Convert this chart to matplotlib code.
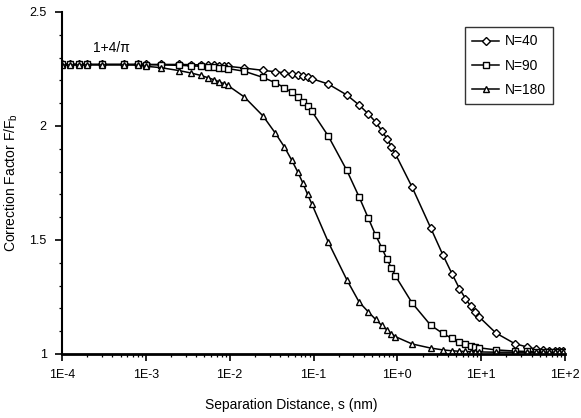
import numpy as np
import matplotlib
matplotlib.use("Agg")
import matplotlib.pyplot as plt
from matplotlib.ticker import FixedLocator, FixedFormatter, MultipleLocator, LogLocator, NullFormatter

plt.rcParams["font.family"] = ["Liberation Sans", "DejaVu Sans"]

# separation distance s (nm), shared by all three series
s_nm = [
    1e-4, 1.25e-4, 1.6e-4, 2e-4, 3e-4, 5.5e-4, 8e-4,
    1e-3, 1.5e-3, 2.5e-3, 3.5e-3, 4.5e-3, 5.5e-3, 6.5e-3, 7.5e-3, 8.5e-3, 9.5e-3,
    1.5e-2, 2.5e-2, 3.5e-2, 4.5e-2, 5.5e-2, 6.5e-2, 7.5e-2, 8.5e-2, 9.5e-2,
    1.5e-1, 2.5e-1, 3.5e-1, 4.5e-1, 5.5e-1, 6.5e-1, 7.5e-1, 8.5e-1, 9.5e-1,
    1.5, 2.5, 3.5, 4.5, 5.5, 6.5, 7.5, 8.5, 9.5,
    15, 25, 35, 45, 55, 65, 75, 85, 95,
]

f_n40 = [
    2.270, 2.270, 2.270, 2.270, 2.270, 2.270, 2.270,
    2.270, 2.270, 2.270, 2.269, 2.268, 2.267, 2.266, 2.265, 2.264, 2.262,
    2.254, 2.244, 2.238, 2.233, 2.228, 2.223, 2.218, 2.213, 2.208,
    2.184, 2.136, 2.092, 2.053, 2.018, 1.980, 1.945, 1.910, 1.877,
    1.732, 1.553, 1.434, 1.351, 1.287, 1.243, 1.210, 1.184, 1.162,
    1.092, 1.046, 1.031, 1.022, 1.018, 1.015, 1.013, 1.012, 1.011,
]

f_n90 = [
    2.270, 2.270, 2.270, 2.270, 2.270, 2.270, 2.270,
    2.269, 2.268, 2.266, 2.264, 2.262, 2.260, 2.258, 2.256, 2.254, 2.252,
    2.240, 2.213, 2.190, 2.168, 2.147, 2.126, 2.106, 2.086, 2.066,
    1.956, 1.805, 1.689, 1.596, 1.522, 1.467, 1.417, 1.377, 1.342,
    1.224, 1.126, 1.090, 1.068, 1.054, 1.044, 1.036, 1.031, 1.027,
    1.018, 1.013, 1.011, 1.010, 1.009, 1.009, 1.008, 1.008, 1.008,
]

f_n180 = [
    2.268, 2.268, 2.268, 2.268, 2.268, 2.268, 2.267,
    2.262, 2.256, 2.243, 2.232, 2.222, 2.212, 2.203, 2.194, 2.186, 2.178,
    2.127, 2.044, 1.969, 1.908, 1.850, 1.798, 1.748, 1.700, 1.660,
    1.491, 1.325, 1.228, 1.185, 1.152, 1.126, 1.106, 1.089, 1.076,
    1.044, 1.026, 1.018, 1.014, 1.012, 1.011, 1.010, 1.009, 1.009,
    1.008, 1.008, 1.008, 1.008, 1.008, 1.008, 1.008, 1.008, 1.008,
]

series = [("N=40", f_n40, "D", 3.6), ("N=90", f_n90, "s", 4.2), ("N=180", f_n180, "^", 4.6)]

x_ticks = [1e-4, 1e-3, 1e-2, 1e-1, 1e0, 1e1, 1e2]
x_ticklabels = ["1E-4", "1E-3", "1E-2", "1E-1", "1E+0", "1E+1", "1E+2"]
y_ticks = [1, 1.5, 2, 2.5]
y_ticklabels = ["1", "1.5", "2", "2.5"]

fig = plt.figure(figsize=(5.81, 4.18), dpi=100)
ax = fig.add_axes([62 / 581, 1 - 354 / 418, 503 / 581, 342 / 418])

for label, f, marker, ms in series:
    ax.plot(s_nm, f, color="black", lw=1.1, marker=marker, ms=ms,
            mfc="white", mec="black", mew=1.0, label=label)

ax.set_xscale("log")
ax.set_xlim(1e-4, 1e2)
ax.set_ylim(1, 2.5)

ax.xaxis.set_major_locator(FixedLocator(x_ticks))
ax.xaxis.set_major_formatter(FixedFormatter(x_ticklabels))
ax.xaxis.set_minor_locator(LogLocator(base=10, subs=np.arange(2, 10), numticks=20))
ax.xaxis.set_minor_formatter(NullFormatter())
ax.yaxis.set_major_locator(FixedLocator(y_ticks))
ax.yaxis.set_major_formatter(FixedFormatter(y_ticklabels))
ax.yaxis.set_minor_locator(MultipleLocator(0.1))

ax.tick_params(which="major", direction="out", length=5, width=1.2, labelsize=9, pad=6)
ax.tick_params(which="minor", direction="out", length=2.5, width=0.9)

for side in ("top", "right"):
    ax.spines[side].set_visible(False)
ax.spines["left"].set_linewidth(1.5)
ax.spines["bottom"].set_linewidth(2.0)

ax.set_xlabel("Separation Distance, s (nm)", fontsize=10)
ax.xaxis.set_label_coords(0.455, -0.128)
ax.set_ylabel(r"Correction Factor F/F$_\mathregular{b}$", fontsize=10)
ax.yaxis.set_label_coords(-0.083, 0.5)

ax.text(3.9e-4, 2.34, "1+4/\u03c0", fontsize=10, ha="center", va="center")

leg = ax.legend(loc="upper right", bbox_to_anchor=(0.99, 0.975), fontsize=10,
                frameon=True, fancybox=False, edgecolor="black", handlelength=2.0,
                labelspacing=0.75, borderpad=0.5, handletextpad=0.4)
leg.get_frame().set_linewidth(1.0)

fig.savefig("out.png", dpi=100)
